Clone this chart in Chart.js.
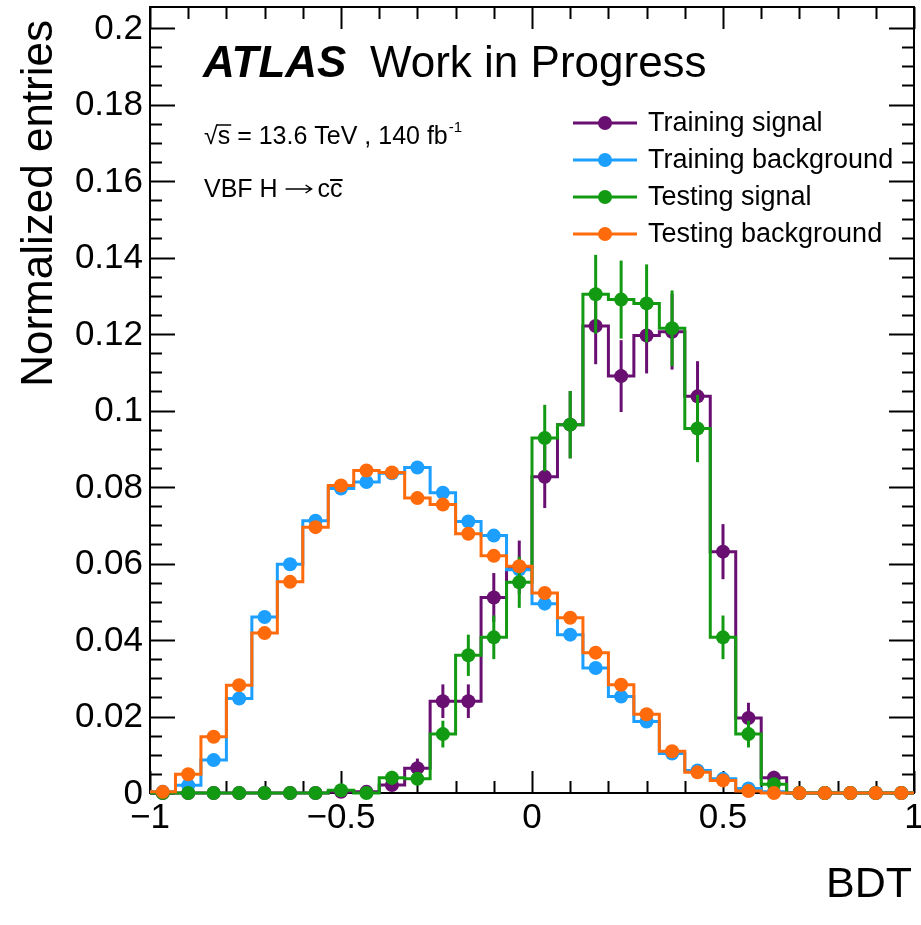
<!DOCTYPE html>
<html>
<head>
<meta charset="utf-8">
<script src="https://cdn.jsdelivr.net/npm/chart.js@4.4.1/dist/chart.umd.min.js"></script>
<style>
  body { margin: 0; background: #fff; }
  #wrap { width: 921px; height: 925px; }
</style>
</head>
<body>
<div id="wrap"><canvas id="myChart" width="921" height="925"></canvas></div>
<script>
// binning
const nBins = 30;
const xMin = -1;
const xMax = 1;
const binEdges = Array.from({ length: nBins + 1 }, (_, i) => xMin + (i * (xMax - xMin)) / nBins);
const binCenters = binEdges.slice(0, nBins).map((e, i) => (e + binEdges[i + 1]) / 2);

// values (normalized entries per bin, left to right)
const trainSig = [0, 0, 0, 0, 0, 0, 0, 0.0003, 0.0003, 0.0021, 0.0065, 0.024, 0.024, 0.0511, 0.059,
  0.0827, 0.0963, 0.1221, 0.109, 0.1196, 0.1206, 0.1037, 0.0631, 0.0196, 0.004, 0, 0, 0, 0, 0];
const trainSigErr = [0, 0, 0, 0, 0, 0, 0, 0.0008, 0.0008, 0.0014, 0.0025, 0.0044, 0.0044, 0.0064, 0.007,
  0.0082, 0.0088, 0.01, 0.0094, 0.0099, 0.0099, 0.0092, 0.0072, 0.004, 0.0018, 0, 0, 0, 0, 0];
const trainBkg = [0.0003, 0.002, 0.0086, 0.0247, 0.046, 0.0598, 0.0712, 0.0796, 0.0813, 0.0836, 0.0851,
  0.0785, 0.071, 0.0673, 0.0584, 0.0495, 0.0414, 0.0327, 0.0252, 0.0187, 0.0103, 0.0059, 0.0037, 0.0012,
  0.0003, 0, 0, 0, 0, 0];
const testSig = [0, 0, 0, 0, 0, 0, 0, 0.0007, 0, 0.004, 0.0037, 0.0154, 0.036, 0.0407, 0.0551,
  0.0928, 0.0963, 0.1304, 0.129, 0.128, 0.1215, 0.0953, 0.0407, 0.0154, 0.0023, 0, 0, 0, 0, 0];
const testSigErr = [0, 0, 0, 0, 0, 0, 0, 0.0008, 0, 0.0018, 0.0017, 0.0035, 0.0054, 0.0057, 0.0067,
  0.0087, 0.0088, 0.0103, 0.0102, 0.0102, 0.0099, 0.0088, 0.0057, 0.0035, 0.0014, 0, 0, 0, 0, 0];
const testBkg = [0.0003, 0.0049, 0.0147, 0.0282, 0.0418, 0.0552, 0.0695, 0.0804, 0.0843, 0.0838, 0.0771,
  0.0754, 0.0678, 0.062, 0.0593, 0.0523, 0.0458, 0.0367, 0.0283, 0.0206, 0.0109, 0.0054, 0.0033, 0.0005,
  0, 0, 0, 0, 0, 0];

const xTickValues = [-1, -0.5, 0, 0.5, 1];
const xTickLabels = ["\u22121", "\u22120.5", "0", "0.5", "1"];
const yTickValues = [0, 0.02, 0.04, 0.06, 0.08, 0.1, 0.12, 0.14, 0.16, 0.18, 0.2];
const yTickLabels = ["0", "0.02", "0.04", "0.06", "0.08", "0.1", "0.12", "0.14", "0.16", "0.18", "0.2"];
const yMax = 0.2055;

const FONT = "'Liberation Sans', Arial, Helvetica, sans-serif";

// series, bottom to top
const series = [
  { label: "Training signal", color: "#6a0f72", values: trainSig, errors: trainSigErr },
  { label: "Training background", color: "#1c9fff", values: trainBkg, errors: null },
  { label: "Testing signal", color: "#139a13", values: testSig, errors: testSigErr },
  { label: "Testing background", color: "#ff6a0a", values: testBkg, errors: null },
];

const datasets = [];
series.forEach((s, k) => {
  const ord = (series.length - 1 - k) * 2;
  datasets.push({
    type: "line",
    label: s.label + " hist",
    data: binEdges.map((e, i) => ({ x: e, y: s.values[Math.min(i, nBins - 1)] })),
    borderColor: s.color,
    borderWidth: 3,
    stepped: "before",
    pointRadius: 0,
    fill: false,
    clip: false,
    order: ord + 1,
  });
  datasets.push({
    type: "scatter",
    label: s.label,
    data: binCenters.map((c, i) => ({ x: c, y: s.values[i] })),
    backgroundColor: s.color,
    borderColor: s.color,
    pointRadius: 7,
    pointBorderWidth: 0,
    errors: s.errors,
    clip: false,
    order: ord,
  });
});

// error bars drawn under each marker set
const errorBars = {
  id: "errorBars",
  beforeDatasetDraw(chart, args) {
    const ds = chart.data.datasets[args.index];
    if (!ds.errors) return;
    const { ctx, scales: { x, y } } = chart;
    ctx.save();
    ctx.strokeStyle = ds.borderColor;
    ctx.lineWidth = 3;
    ds.data.forEach((p, i) => {
      const e = ds.errors[i];
      if (!e) return;
      const px = x.getPixelForValue(p.x);
      ctx.beginPath();
      ctx.moveTo(px, y.getPixelForValue(p.y - e));
      ctx.lineTo(px, y.getPixelForValue(p.y + e));
      ctx.stroke();
    });
    ctx.restore();
  },
};

// ROOT style frame with inward ticks on all four sides, plus tick labels
const frameTicks = {
  id: "frameTicks",
  beforeDatasetsDraw(chart) {
    const { ctx, chartArea: { top, bottom, left, right }, scales: { x, y } } = chart;
    ctx.save();
    ctx.strokeStyle = "#000";
    ctx.lineWidth = 2;
    ctx.strokeRect(left, top, right - left, bottom - top);
    ctx.beginPath();
    for (let i = 0; i <= 20; i++) {
      const v = -1 + i * 0.1;
      const px = Math.round(x.getPixelForValue(v)) + 0.5;
      const len = i % 5 === 0 ? 22 : 12;
      ctx.moveTo(px, bottom); ctx.lineTo(px, bottom - len);
      ctx.moveTo(px, top); ctx.lineTo(px, top + len);
    }
    for (let i = 0; i <= 40; i++) {
      const v = i * 0.005;
      const py = Math.round(y.getPixelForValue(v)) + 0.5;
      const len = i % 4 === 0 ? 25 : 12;
      ctx.moveTo(left, py); ctx.lineTo(left + len, py);
      ctx.moveTo(right, py); ctx.lineTo(right - len, py);
    }
    ctx.stroke();

    ctx.fillStyle = "#000";
    ctx.font = "35px " + FONT;
    ctx.textAlign = "center";
    ctx.textBaseline = "alphabetic";
    xTickValues.forEach((v, i) => {
      ctx.fillText(xTickLabels[i], x.getPixelForValue(v), bottom + 35);
    });
    ctx.textAlign = "right";
    ctx.textBaseline = "middle";
    yTickValues.forEach((v, i) => {
      ctx.fillText(yTickLabels[i], left - 7, y.getPixelForValue(v) + 1);
    });
    ctx.restore();
  },
};

// axis titles, labels and legend
const annotations = {
  id: "annotations",
  afterDraw(chart) {
    const { ctx } = chart;
    ctx.save();
    ctx.fillStyle = "#000";
    ctx.strokeStyle = "#000";

    // y title
    ctx.save();
    ctx.translate(40, 20);
    ctx.rotate(-Math.PI / 2);
    ctx.font = "44px " + FONT;
    ctx.textAlign = "right";
    ctx.textBaseline = "middle";
    ctx.fillText("Normalized entries", 0, 0);
    ctx.restore();

    // x title
    ctx.font = "43px " + FONT;
    ctx.textAlign = "right";
    ctx.textBaseline = "alphabetic";
    ctx.fillText("BDT", 912, 897);

    // ATLAS label
    ctx.textAlign = "left";
    ctx.font = "italic bold 44px " + FONT;
    ctx.fillText("ATLAS", 203, 77);
    ctx.font = "44px " + FONT;
    ctx.fillText("Work in Progress", 370, 77);

    // energy / lumi
    ctx.font = "25px " + FONT;
    const l1 = "√s = 13.6 TeV , 140 fb";
    ctx.fillText(l1, 204, 144);
    const wRoot = ctx.measureText("√").width;
    const wS = ctx.measureText("s").width;
    ctx.lineWidth = 1.5;
    ctx.beginPath();
    ctx.moveTo(204 + wRoot - 1, 125);
    ctx.lineTo(204 + wRoot + wS + 1, 125);
    ctx.stroke();
    const w1 = ctx.measureText(l1).width;
    ctx.font = "15px " + FONT;
    ctx.fillText("-1", 204 + w1 + 1, 132);

    // process
    ctx.font = "25px " + FONT;
    const l2a = "VBF H ";
    const l2b = "cc";
    ctx.fillText(l2a, 204, 197);
    let xx = 204 + ctx.measureText(l2a).width;
    ctx.lineWidth = 1.5;
    ctx.beginPath();
    ctx.moveTo(xx + 1, 189);
    ctx.lineTo(xx + 27, 189);
    ctx.moveTo(xx + 21, 185);
    ctx.lineTo(xx + 27, 189);
    ctx.lineTo(xx + 21, 193);
    ctx.stroke();
    xx += 33;
    ctx.fillText(l2b, xx, 197);
    const w2 = ctx.measureText(l2b).width;
    const wc = ctx.measureText("c").width;
    ctx.lineWidth = 2;
    ctx.beginPath();
    ctx.moveTo(xx + w2 - wc, 180);
    ctx.lineTo(xx + w2, 180);
    ctx.stroke();

    // legend
    const rowY = [123, 160, 197, 234];
    series.forEach((s, k) => {
      const yy = rowY[k];
      ctx.strokeStyle = s.color;
      ctx.fillStyle = s.color;
      ctx.lineWidth = 3;
      ctx.beginPath();
      ctx.moveTo(573, yy);
      ctx.lineTo(637, yy);
      ctx.stroke();
      ctx.beginPath();
      ctx.arc(605, yy, 7, 0, Math.PI * 2);
      ctx.fill();
      ctx.fillStyle = "#000";
      ctx.font = "27px " + FONT;
      ctx.textBaseline = "middle";
      ctx.fillText(s.label, 648, yy + 1);
      ctx.textBaseline = "alphabetic";
    });
    ctx.restore();
  },
};

const config = {
  type: "scatter",
  data: { datasets: datasets },
  options: {
    responsive: false,
    animation: false,
    layout: { padding: { top: 6, right: 3, left: 0, bottom: 0 } },
    plugins: {
      legend: { display: false },
      tooltip: { enabled: false },
    },
    scales: {
      x: {
        type: "linear",
        min: xMin,
        max: xMax,
        afterFit(scale) {
          scale.height = 132;
        },
        grid: { display: false, drawTicks: false },
        border: { display: false },
        ticks: { display: false },
      },
      y: {
        type: "linear",
        min: 0,
        max: yMax,
        afterFit(scale) {
          scale.width = 150;
        },
        grid: { display: false, drawTicks: false },
        border: { display: false },
        ticks: { display: false },
      },
    },
  },
  plugins: [errorBars, frameTicks, annotations],
};

const myChart = new Chart(document.getElementById("myChart"), config);
</script>
</body>
</html>
